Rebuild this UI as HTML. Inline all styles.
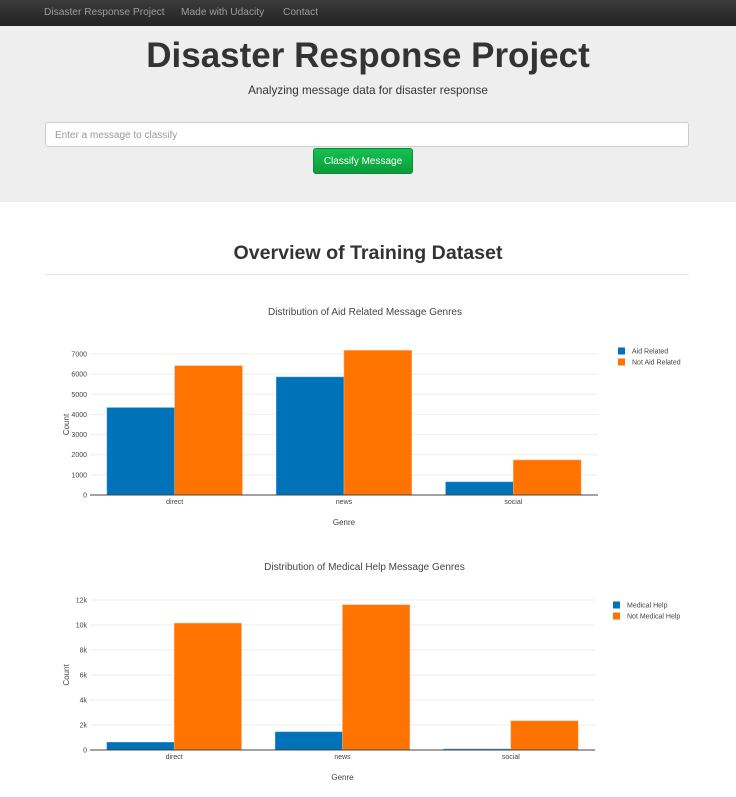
<!DOCTYPE html>
<html><head><meta charset="utf-8">
<style>
body{margin:0;width:736px;height:797px;background:#fff;font-family:"Liberation Sans",Arial,sans-serif;overflow:hidden;position:relative}
.nav{position:absolute;left:0;top:0;width:736px;height:26px;background:linear-gradient(#3c3c3c,#222);}
.nav span{position:absolute;top:7px;font-size:10.2px;color:#9d9d9d}
.jumbo{position:absolute;left:0;top:26px;width:736px;height:176px;background:#eee}
h1{position:absolute;margin:0;left:0;width:736px;text-align:center;top:36px;font-size:35px;font-weight:bold;color:#333}
.sub{position:absolute;left:0;width:736px;text-align:center;top:84px;font-size:11.7px;color:#333;font-weight:300}
.inp{position:absolute;left:45px;top:122px;background:#fff;border:1px solid #ccc;border-radius:3px;font-size:10px;color:#999;box-sizing:border-box;width:644px;height:25px;padding:7px 9px}
.btn{position:absolute;left:313px;top:148px;width:100px;height:26px;box-sizing:border-box;background:linear-gradient(#15c153,#0a9c3a);border:1px solid #098a33;border-radius:3px;color:#fff;font-size:10px;text-align:center;line-height:25px}
h2{position:absolute;margin:0;left:0;width:736px;text-align:center;top:242px;font-size:19.6px;font-weight:bold;color:#333}
.hr{position:absolute;left:45px;top:274px;width:644px;height:1px;background:#e5e5e5}
svg{position:absolute;left:0;font-family:"Liberation Sans",Arial,sans-serif}
</style></head><body>
<div class="nav">
<span style="left:44px">Disaster Response Project</span>
<span style="left:181px">Made with Udacity</span>
<span style="left:283px">Contact</span>
</div>
<div class="jumbo"></div>
<h1>Disaster Response Project</h1>
<div class="sub">Analyzing message data for disaster response</div>
<div class="inp">Enter a message to classify</div>
<div class="btn">Classify Message</div>
<h2>Overview of Training Dataset</h2>
<div class="hr"></div>
<svg id="c1" width="736" height="260" style="top:290px"></svg>
<svg id="c2" width="736" height="250" style="top:547px"></svg>
<script>
const categories=["direct","news","social"];
const aidRelated=[4340,5860,650];
const notAidRelated=[6420,7180,1740];
const aidTicks=[0,1000,2000,3000,4000,5000,6000,7000];
const aidTickLabels=["0","1000","2000","3000","4000","5000","6000","7000"];
const medicalHelp=[620,1450,80];
const notMedicalHelp=[10150,11620,2330];
const medTicks=[0,2000,4000,6000,8000,10000,12000];
const medTickLabels=["0","2k","4k","6k","8k","10k","12k"];
const NS="http://www.w3.org/2000/svg";
function mk(p,t,a){const e=document.createElementNS(NS,t);for(const k in a)e.setAttribute(k,a[k]);p.appendChild(e);return e;}
function chart(svg,o){
  const x0=90,x1=o.x1,y0=o.y0,ymax=o.ymax,ph=o.ph;
  const y=v=>y0-v/ymax*ph;
  const bw=(x1-x0)/categories.length;
  const t=mk(svg,"text",{x:(x0+x1)/2+(o.tx||0),y:o.titleY,"text-anchor":"middle","font-size":"10","fill":"#444"});t.textContent=o.title;
  
  
  o.ticks.forEach((v,i)=>{
    if(v>0){const g=mk(svg,"line",{x1:x0,x2:x1,y1:y(v),y2:y(v),stroke:"#eee","stroke-width":1});
    
    }
    const l=mk(svg,"text",{x:x0-3,y:y(v)+2.5,"text-anchor":"end","font-size":"7","fill":"#444"});l.textContent=o.tickLabels[i];
    
    
  });
  categories.forEach((c,i)=>{
    const cx=x0+bw*(i+0.5),w=bw*0.4;
    const b1=mk(svg,"rect",{x:cx-w,y:y(o.s1[i]),width:w,height:y0-y(o.s1[i]),fill:"#0072b8",stroke:"#5fa8d8","stroke-width":0.5});
    
    
    const b2=mk(svg,"rect",{x:cx,y:y(o.s2[i]),width:w,height:y0-y(o.s2[i]),fill:"#ff7300",stroke:"#ffb07a","stroke-width":0.5});
    
    
    const l=mk(svg,"text",{x:cx,y:y0+9,"text-anchor":"middle","font-size":"7","fill":"#444"});l.textContent=c;
    
    
  });
  const ax=mk(svg,"line",{x1:x0,x2:x1,y1:y0,y2:y0,stroke:"#444","stroke-width":1});
  
  
  const xt=mk(svg,"text",{x:(x0+x1)/2,y:y0+30,"text-anchor":"middle","font-size":"8","fill":"#444"});xt.textContent="Genre";
  
  
  const yt=mk(svg,"text",{x:0,y:0,"text-anchor":"middle","font-size":"8","fill":"#444",transform:"translate(69,"+(y0-ph/2)+") rotate(-90)"});yt.textContent="Count";
  
  
  [[o.n1,"#0072b8"],[o.n2,"#ff7300"]].forEach((d,i)=>{
    const r=mk(svg,"rect",{x:o.lx,y:o.ly+i*11-3.5,width:7,height:7,fill:d[1]});
    
    
    const t=mk(svg,"text",{x:o.lx+14,y:o.ly+i*11+2.5,"font-size":"7","fill":"#444"});t.textContent=d[0];
    
    
  });
}
chart(document.getElementById("c1"),{x1:598,y0:205,ymax:7000,ph:141,titleY:25,title:"Distribution of Aid Related Message Genres",ticks:aidTicks,tickLabels:aidTickLabels,s1:aidRelated,s2:notAidRelated,k1:"aid",k2:"not-aid",n1:"Aid Related",n2:"Not Aid Related",lx:618,ly:61,tx:21});
chart(document.getElementById("c2"),{x1:595,y0:203,ymax:12000,ph:150,titleY:23,title:"Distribution of Medical Help Message Genres",ticks:medTicks,tickLabels:medTickLabels,s1:medicalHelp,s2:notMedicalHelp,k1:"medical",k2:"not-medical",n1:"Medical Help",n2:"Not Medical Help",lx:613,ly:58,tx:22});
</script>
</body></html>
